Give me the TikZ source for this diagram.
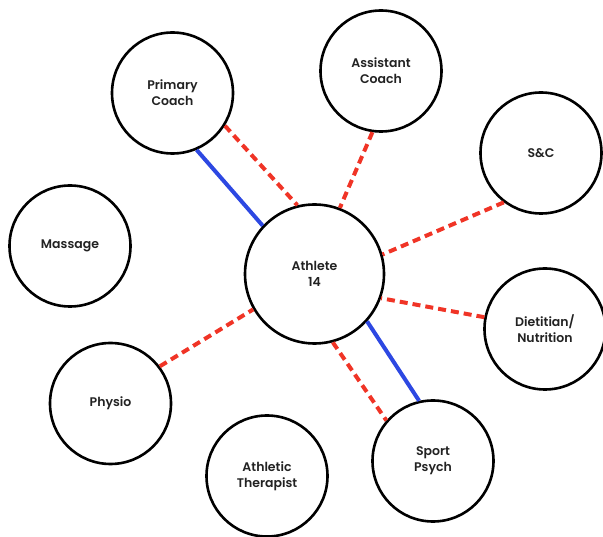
\documentclass[tikz,border=0pt]{standalone}
\usepackage{fontspec}
\newfontfamily\rolefont{Poppins SemiBold}
\definecolor{tieblue}{RGB}{45,72,226}
\definecolor{tiered}{RGB}{240,52,38}
\definecolor{rolegray}{RGB}{34,34,34}
\tikzset{
  role/.style={circle,draw=black,line width=2.6pt,minimum size=121pt,inner sep=0pt,
    align=center,text=rolegray,font=\rolefont\fontsize{12.5}{16}\selectfont},
  strong/.style={draw=tieblue,line width=4pt},
  weak/.style={draw=tiered,line width=4pt,dash pattern=on 8pt off 5pt}
}

\begin{document}
\begin{tikzpicture}[x=1pt,y=-1pt]
    \useasboundingbox (0,0) rectangle (603,537);
        % Athlete
        \node[role,minimum size=139pt] (ath) at (314.5,274) {Athlete\\14};
        % Support staff
        \foreach \n/\x/\y/\t in {pc/172.5/93/{Primary\\Coach}, ac/381/71/{Assistant\\Coach},
                sc/541/153/{S\&C}, ms/70/246/{Massage}, dn/545/329/{Dietitian/\\Nutrition},
                ph/110.5/403.5/{Physio}, at/267/476/{Athletic\\Therapist}, sp/433/461/{Sport\\Psych}}
            \node[role] (\n) at (\x,\y) {\t};
        % Strong ties
        \draw[strong] (pc.-67) -- (ath.137);
        \draw[strong] (ath.-42) -- (sp.103);
        % Weak ties
        \draw[weak] (pc.-32) -- (ath.104);
        \draw[weak] (ac.-98) -- (ath.69);
        \draw[weak] (sc.-127) -- (ath.16);
        \draw[weak] (dn.169) -- (ath.-20);
        \draw[weak] (ath.-75) -- (sp.139);
        \draw[weak] (ph.37) -- (ath.-150);
    \end{tikzpicture}
\end{document}
